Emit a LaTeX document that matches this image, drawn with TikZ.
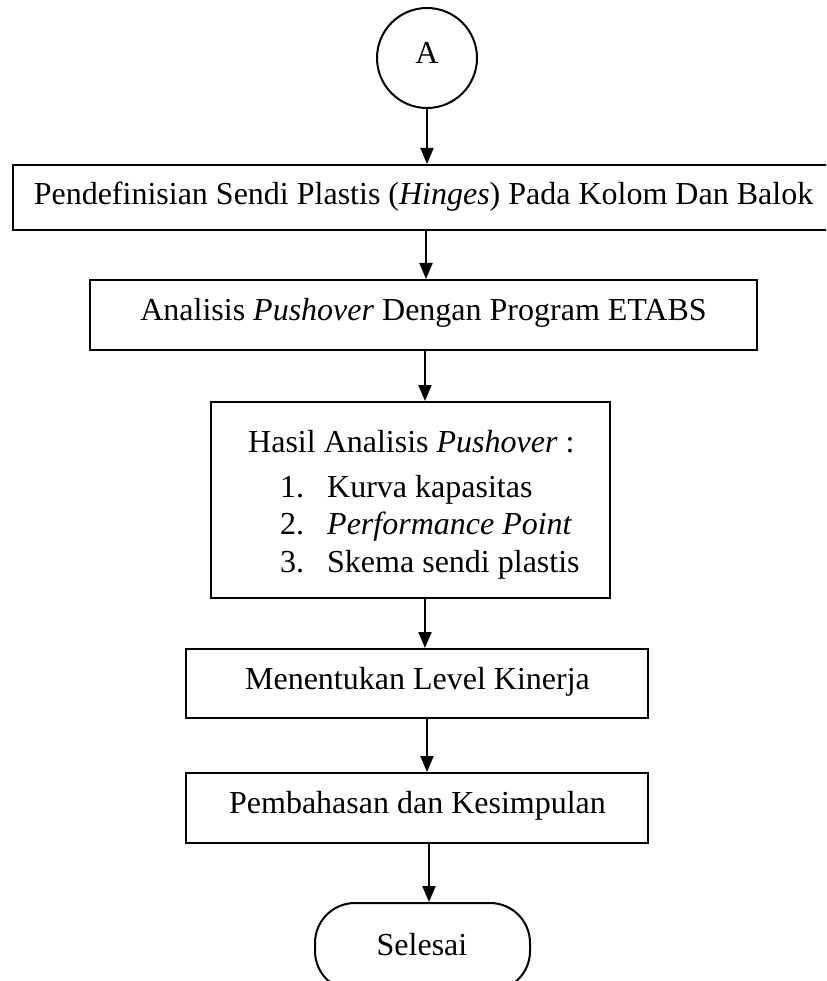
\documentclass[tikz,border=0pt]{standalone}
\usepackage{fontspec}
\setmainfont{Liberation Serif}
\usetikzlibrary{arrows.meta}
\begin{document}
\begin{tikzpicture}[x=1pt,y=-1pt,
  boxst/.style={draw, line width=2pt, rectangle, inner sep=0pt},
  arr/.style={line width=2pt, -{Triangle[length=16pt,width=13pt]}},
  txt/.style={font=\fontsize{32}{38}\selectfont, inner sep=0pt, anchor=base}]
\useasboundingbox (0,0) rectangle (826,981);
\clip (0,0) rectangle (826,981);
% shapes
\node[boxst, circle, minimum size=100pt] (A) at (427,58) {};
\node[boxst, minimum width=821pt, minimum height=65pt] (b1) at (423.4,197.5) {};
\node[boxst, minimum width=667pt, minimum height=70pt] (b2) at (423.5,315) {};
\node[boxst, minimum width=399pt, minimum height=196pt] (b3) at (410.4,500) {};
\node[boxst, minimum width=462pt, minimum height=69pt] (b4) at (417,683.5) {};
\node[boxst, minimum width=462pt, minimum height=70pt] (b5) at (417,808) {};
\node[boxst, rounded corners=40pt, minimum width=215pt, minimum height=88pt] (sel) at (422.5,947) {};
% texts
\node[txt] (tA) at (427,64) {A};
\node[txt] (t1) at (423.5,205) {Pendefinisian Sendi Plastis (\textit{Hinges}) Pada Kolom Dan Balok};
\node[txt] (t2) at (423.5,320) {Analisis \textit{Pushover} Dengan Program ETABS};
\node[txt, anchor=base west] (t3) at (248,452) {Hasil Analisis \textit{Pushover} :};
\node[txt, anchor=base west] (n1) at (280,497) {1.};
\node[txt, anchor=base west] (i1) at (327,497) {Kurva kapasitas};
\node[txt, anchor=base west] (n2) at (280,534) {2.};
\node[txt, anchor=base west] (i2) at (327,534) {\textit{Performance Point}};
\node[txt, anchor=base west] (n3) at (280,572) {3.};
\node[txt, anchor=base west] (i3) at (327,572) {Skema sendi plastis};
\node[txt] (t4) at (417.5,689) {Menentukan Level Kinerja};
\node[txt] (t5) at (417.5,813) {Pembahasan dan Kesimpulan};
\node[txt] (ts) at (422,955) {Selesai};
% connectors
\coordinate (c1) at (426,0);
\coordinate (c2) at (425,0);
\coordinate (c3) at (425,0);
\coordinate (c4) at (427,0);
\coordinate (c5) at (429,0);
\draw[arr] (A.south) -- (A.south |- b1.north);
\draw[arr] (c1 |- b1.south) -- (c1 |- b2.north);
\draw[arr] (c2 |- b2.south) -- (c2 |- b3.north);
\draw[arr] (c3 |- b3.south) -- (c3 |- b4.north);
\draw[arr] (c4 |- b4.south) -- (c4 |- b5.north);
\draw[arr] (c5 |- b5.south) -- (c5 |- sel.north);
\end{tikzpicture}
\end{document}
